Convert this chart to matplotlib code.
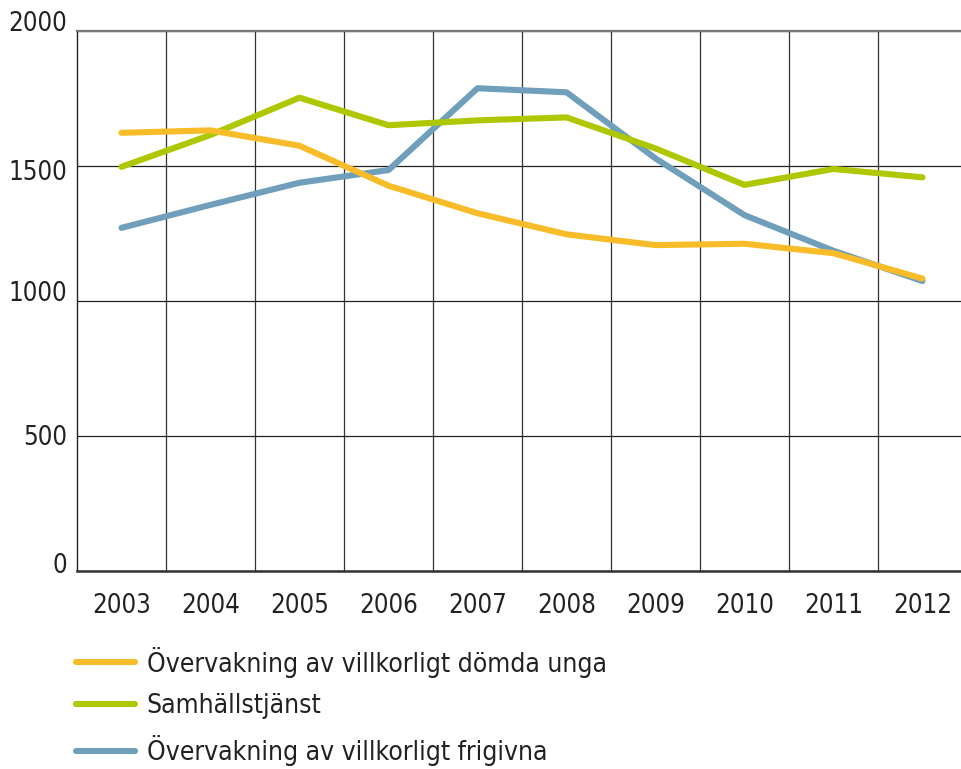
import matplotlib.pyplot as plt
from matplotlib import font_manager
from matplotlib.transforms import ScaledTranslation

# -----------------------------
# Data
# -----------------------------
years = ["2003", "2004", "2005", "2006", "2007", "2008", "2009", "2010", "2011", "2012"]

domda_unga = [1623, 1632, 1575, 1427, 1325, 1247, 1207, 1212, 1177, 1083]
samhallstjanst = [1497, 1615, 1753, 1651, 1669, 1680, 1565, 1430, 1489, 1458]
frigivna = [1271, 1356, 1438, 1485, 1788, 1773, 1528, 1318, 1186, 1074]

labels = [
    "Övervakning av villkorligt dömda unga",
    "Samhällstjänst",
    "Övervakning av villkorligt frigivna",
]
y_ticks = [0, 500, 1000, 1500, 2000]

ORANGE = "#F8BC28"
GREEN = "#AFC700"
BLUE = "#6F9FBA"
TEXT = "#222222"
FS = 18.5


def pick_condensed_font():
    # the original uses a narrow DIN-like face; take the closest thing installed
    fl = font_manager.fontManager.ttflist
    for f in fl:
        if f.name == "Liberation Sans Narrow" and f.weight in (400, "normal") and f.style == "normal":
            return f.fname
    for f in fl:
        low = f.fname.lower()
        if ("condensed" in low or "narrow" in low) and "bold" not in low and "oblique" not in low \
                and "italic" not in low and "sans" in low and "mono" not in low:
            return f.fname
    return None


path = pick_condensed_font()
if path:
    fp = font_manager.FontProperties(fname=path, size=FS)
    fp_leg = font_manager.FontProperties(fname=path, size=FS + 0.5)
else:
    fp = font_manager.FontProperties(family="DejaVu Sans", size=FS)
    fp_leg = fp

fig = plt.figure(figsize=(9.62, 7.69), dpi=100)
ax = fig.add_axes([77 / 962, 198 / 769, 890 / 962, 540 / 769])

x = list(range(len(years)))
l3, = ax.plot(x, frigivna, color=BLUE, lw=4.4, solid_capstyle="round", zorder=3)
l2, = ax.plot(x, samhallstjanst, color=GREEN, lw=4.4, solid_capstyle="round", zorder=4)
l1, = ax.plot(x, domda_unga, color=ORANGE, lw=4.4, solid_capstyle="round", zorder=5)

ax.set_xlim(-0.5, len(years) - 0.5)
ax.set_ylim(0, 2000)

ax.set_xticks(x)
ax.set_xticklabels(years, color=TEXT)
ax.set_xticks([i + 0.5 for i in x], minor=True)
ax.set_yticks(y_ticks)
ax.set_yticklabels([str(v) for v in y_ticks], color=TEXT)
for lab in ax.get_xticklabels() + ax.get_yticklabels():
    lab.set_fontproperties(fp)

ax.tick_params(axis="x", which="both", length=0, pad=16)
ax.tick_params(axis="y", length=0, pad=7)

# y labels in the original sit a bit off their gridlines
offsets = {0: 8, 500: 1, 1000: 10, 1500: -4, 2000: 10}
for lab, v in zip(ax.get_yticklabels(), y_ticks):
    lab.set_transform(lab.get_transform() + ScaledTranslation(0, offsets[v] / 100, fig.dpi_scale_trans))

ax.grid(axis="y", which="major", color="#222222", lw=0.9)
ax.grid(axis="x", which="minor", color="#333333", lw=0.9)
ax.set_axisbelow(True)

ax.spines["right"].set_visible(False)
ax.spines["top"].set_color("#777777")
ax.spines["top"].set_linewidth(1.6)
ax.spines["left"].set_color("#222222")
ax.spines["left"].set_linewidth(1.0)
ax.spines["bottom"].set_color("#333333")
ax.spines["bottom"].set_linewidth(1.8)

leg = fig.legend(
    [l1, l2, l3], labels,
    loc="upper left", bbox_to_anchor=(65 / 962, 1 - 636 / 769),
    frameon=False, prop=fp_leg, handlelength=2.25, handletextpad=0.45,
    labelspacing=0.6, borderaxespad=0,
)
for t in leg.get_texts():
    t.set_color(TEXT)

fig.savefig("out.png", dpi=100)
